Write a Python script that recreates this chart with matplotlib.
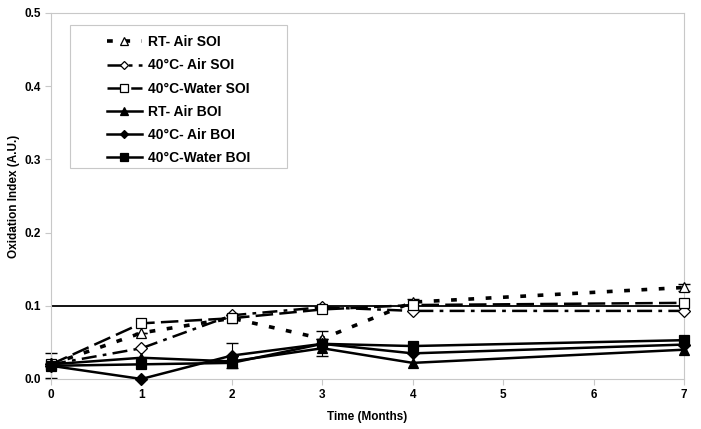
import matplotlib
matplotlib.use("Agg")
import matplotlib.pyplot as plt
from matplotlib.patches import Rectangle

plt.rcParams['font.family'] = ['Liberation Sans', 'DejaVu Sans']

# time points (months)
months = [0, 1, 2, 3, 4, 7]

# oxidation index values
rt_air_soi = [0.020, 0.063, 0.083, 0.055, 0.105, 0.125]
c40_air_soi = [0.020, 0.042, 0.087, 0.098, 0.093, 0.093]
c40_water_soi = [0.020, 0.076, 0.083, 0.095, 0.101, 0.104]
rt_air_boi = [0.020, 0.029, 0.024, 0.042, 0.022, 0.040]
c40_air_boi = [0.018, 0.000, 0.032, 0.048, 0.035, 0.047]
c40_water_boi = [0.018, 0.020, 0.022, 0.048, 0.045, 0.053]

# error bars (only a few visible)
rt_air_soi_err = [0.0, 0.0, 0.0, 0.0, 0.004, 0.005]
c40_air_boi_err = [0.017, 0.0, 0.017, 0.017, 0.0, 0.0]

threshold = 0.1
grey = '#c8c8c8'

fig = plt.figure(figsize=(7.01, 4.29), dpi=100)
ax = fig.add_axes([0.0728, 0.1166, 0.9029, 0.8531])

ax.plot([0, 7], [threshold, threshold], color='black', lw=1.3, zorder=1)

series = [
    (rt_air_soi, 'RT- Air SOI', '^', 'white', (0, (1.6, 3.2)), 2.6),
    (c40_air_soi, '40°C- Air SOI', 'D', 'white', (0, (6, 2.5, 1.5, 2.5)), 1.8),
    (c40_water_soi, '40°C-Water SOI', 's', 'white', (0, (7, 2.5)), 1.8),
    (rt_air_boi, 'RT- Air BOI', '^', 'black', '-', 1.8),
    (c40_air_boi, '40°C- Air BOI', 'D', 'black', '-', 1.8),
    (c40_water_boi, '40°C-Water BOI', 's', 'black', '-', 1.8),
]

for vals, name, mk, fc, ls, lw in series:
    ms = 7 if mk != 'D' else 6
    ax.plot(months, vals, linestyle=ls, lw=lw, color='black', marker=mk,
            markersize=ms, markerfacecolor=fc, markeredgecolor='black',
            markeredgewidth=0.9, label=name, zorder=3, clip_on=False)

for vals, err in [(rt_air_soi, rt_air_soi_err), (c40_air_boi, c40_air_boi_err)]:
    eb = ax.errorbar(months, vals, yerr=err, fmt='none', ecolor='black',
                     elinewidth=0.8, capsize=4, zorder=2)
    for art in eb.lines[1] + eb.lines[2]:
        art.set_clip_on(False)

ax.set_xlim(0, 7)
ax.set_ylim(0, 0.5)
ax.set_xticks(range(0, 8))
ax.set_yticks([0.0, 0.1, 0.2, 0.3, 0.4, 0.5])
ax.set_yticklabels(['0.0', '0.1', '0.2', '0.3', '0.4', '0.5'])
ax.tick_params(axis='both', colors=grey, labelcolor='black', labelsize=8.5,
               length=4, width=0.8, direction='out')
for lab in ax.get_xticklabels() + ax.get_yticklabels():
    lab.set_fontweight('bold')
for sp in ax.spines.values():
    sp.set_color(grey)
    sp.set_linewidth(0.8)

ax.set_xlabel('Time (Months)', fontsize=8.5, fontweight='bold', labelpad=7)
ax.set_ylabel('Oxidation Index (A.U.)', fontsize=8.5, fontweight='bold', labelpad=3)

# legend box drawn separately so it can be wider than the entries
ax.add_patch(Rectangle((0.030, 0.577), 0.343, 0.390, transform=ax.transAxes,
                       facecolor='white', edgecolor=grey, lw=0.8, zorder=4))
leg = ax.legend(loc='upper left', bbox_to_anchor=(0.0885, 0.939), frameon=False,
                handlelength=2.5, labelspacing=0.66, borderpad=0,
                borderaxespad=0, handletextpad=0.45, markerscale=0.75,
                prop={'weight': 'bold', 'size': 10})
leg.set_zorder(5)

fig.savefig('out.png', dpi=100)
